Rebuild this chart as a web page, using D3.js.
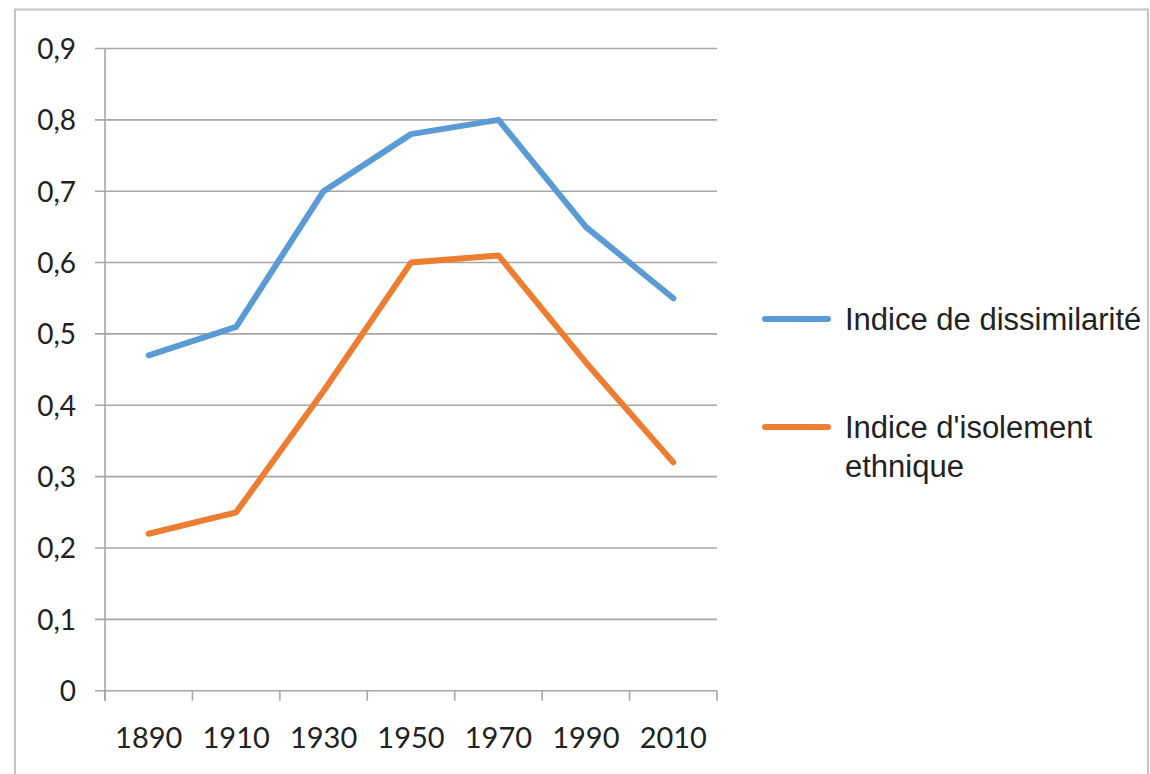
<!DOCTYPE html>
<html>
<head>
<meta charset="utf-8">
<script src="https://cdn.jsdelivr.net/npm/d3@7"></script>
<style>
    body { margin: 0; background: #fff; }
</style>
</head>
<body>
<div id="chart-holder"></div>
<script>
// Line chart - indices de ségrégation

var years = ['1890', '1910', '1930', '1950', '1970', '1990', '2010'];
var dissimilarite = [0.47, 0.51, 0.70, 0.78, 0.80, 0.65, 0.55];
var isolement = [0.22, 0.25, 0.42, 0.60, 0.61, 0.46, 0.32];
var yTicks = [0, 0.1, 0.2, 0.3, 0.4, 0.5, 0.6, 0.7, 0.8, 0.9];
var seriesNames = ['Indice de dissimilarité', "Indice d'isolement|ethnique"];
var seriesColors = ['#5b9bd5', '#ed7d31'];

const dims = {
    'width': 1150,
    'height': 774
};

var svg = d3.select('#chart-holder')
            .append('svg')
            .attr('width', dims.width)
            .attr('height', dims.height);

// outer frame
svg.append('rect')
    .attr('x', 15)
    .attr('y', 9.5)
    .attr('width', 1133)
    .attr('height', 780)
    .attr('fill', 'none')
    .attr('stroke', '#c4c4c4')
    .attr('stroke-width', 2);

var x = d3.scaleBand()
    .domain(years)
    .range([105, 717]);

var y = d3.scaleLinear()
    .domain([0, 0.9])
    .range([690.7, 48.5]);

var fmt = d => d === 0 ? '0' : d3.format('.1f')(d).replace('.', ',');

// gridlines (they stick out left of the axis like ticks)
var grid = svg.append('g');
grid.selectAll('.grid')
    .data(yTicks)
    .join('line')
    .classed('grid', true)
    .attr('x1', 95)
    .attr('x2', 717)
    .attr('y1', d => y(d))
    .attr('y2', d => y(d))
    .attr('stroke', '#a6a6a6')
    .attr('stroke-width', 1.6);

// y axis line
svg.append('line')
    .attr('x1', 105).attr('x2', 105)
    .attr('y1', y(0.9)).attr('y2', 701)
    .attr('stroke', '#a6a6a6')
    .attr('stroke-width', 1.6);

svg.append('g')
    .selectAll('.y-label')
    .data(yTicks)
    .join('text')
    .classed('y-label', true)
    .attr('x', 76)
    .attr('y', d => y(d))
    .attr('dy', '0.37em')
    .attr('text-anchor', 'end')
    .attr('font-family', 'Lato, "Open Sans", sans-serif')
    .attr('font-size', 28)
    .attr('fill', '#222')
    .text(fmt);

// x axis: ticks between the categories
var xAxis = d3.axisBottom(x)
    .tickSize(0)
    .tickPadding(0);

var xAxisG = svg.append('g')
    .attr('transform', `translate(0,${y(0)})`)
    .call(xAxis);

xAxisG.select('.domain').remove();
xAxisG.selectAll('text')
    .attr('y', 57)
    .attr('dy', 0)
    .attr('font-family', 'Lato, "Open Sans", sans-serif')
    .attr('font-size', 29)
    .attr('fill', '#222');

xAxisG.selectAll('.cat-tick')
    .data(years.map(d => x(d)).concat([x.range()[1]]))
    .join('line')
    .classed('cat-tick', true)
    .attr('x1', d => d).attr('x2', d => d)
    .attr('y1', 0).attr('y2', 10)
    .attr('stroke', '#a6a6a6')
    .attr('stroke-width', 1.6);

// the lines
var line = d3.line()
    .x((d, i) => x(years[i]) + x.bandwidth() / 2)
    .y(d => y(d));

svg.append('g')
    .selectAll('.series')
    .data([dissimilarite, isolement])
    .join('path')
    .classed('series', true)
    .attr('d', line)
    .attr('fill', 'none')
    .attr('stroke', (d, i) => seriesColors[i])
    .attr('stroke-width', 6)
    .attr('stroke-linejoin', 'round')
    .attr('stroke-linecap', 'round');

// legend
var legendY = [319, 427];
var legendG = svg.append('g');

legendG.selectAll('.leg-line')
    .data(seriesNames)
    .join('line')
    .classed('leg-line', true)
    .attr('x1', 765).attr('x2', 828)
    .attr('y1', (d, i) => legendY[i])
    .attr('y2', (d, i) => legendY[i])
    .attr('stroke', (d, i) => seriesColors[i])
    .attr('stroke-width', 6)
    .attr('stroke-linecap', 'round');

legendG.selectAll('.leg-text')
    .data(seriesNames)
    .join('text')
    .classed('leg-text', true)
    .attr('x', 845)
    .attr('y', (d, i) => legendY[i] + 11)
    .attr('font-family', '"Liberation Sans", Arial, sans-serif')
    .attr('font-size', 31)
    .attr('fill', '#222')
    .each(function(d) {
        var parts = d.split('|');
        d3.select(this).selectAll('tspan')
            .data(parts)
            .join('tspan')
            .attr('x', 845)
            .attr('dy', (p, j) => j === 0 ? 0 : 39)
            .text(p => p);
    });
</script>
</body>
</html>
